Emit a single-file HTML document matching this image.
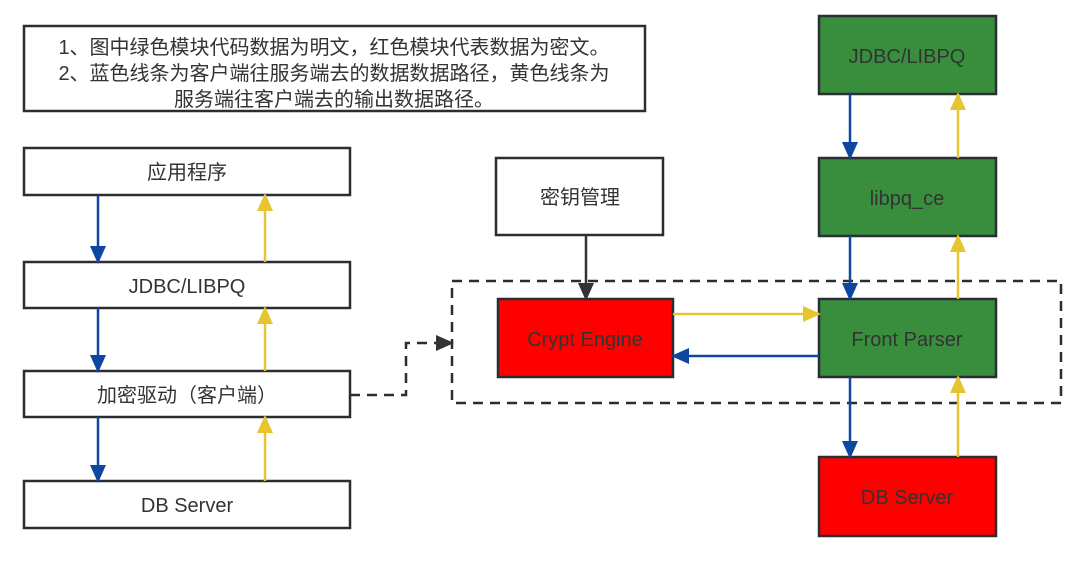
<!DOCTYPE html>
<html><head><meta charset="utf-8"><style>
html,body{margin:0;padding:0;background:#fff;}
svg{display:block;}
text{font-family:"Liberation Sans","Noto Sans CJK SC",sans-serif;fill:#333;}
</style></head><body>
<svg width="1080" height="568" viewBox="0 0 1080 568" xmlns="http://www.w3.org/2000/svg">
<defs>
<marker id="ab" markerWidth="18" markerHeight="16" refX="16" refY="8" orient="auto" markerUnits="userSpaceOnUse" viewBox="0 0 18 16"><path d="M0,0 L18,8 L0,16 Z" fill="#0d47a1"/></marker>
<marker id="ay" markerWidth="18" markerHeight="16" refX="16" refY="8" orient="auto" markerUnits="userSpaceOnUse" viewBox="0 0 18 16"><path d="M0,0 L18,8 L0,16 Z" fill="#e6c531"/></marker>
<marker id="ak" markerWidth="18" markerHeight="16" refX="16" refY="8" orient="auto" markerUnits="userSpaceOnUse" viewBox="0 0 18 16"><path d="M0,0 L18,8 L0,16 Z" fill="#333"/></marker>
</defs>
<g stroke="#2a2e33" stroke-width="2.5">
<rect x="24" y="26" width="621" height="85" fill="#fff"/>
<rect x="24" y="148" width="326" height="47" fill="#fff"/>
<rect x="24" y="262" width="326" height="46" fill="#fff"/>
<rect x="24" y="371" width="326" height="46" fill="#fff"/>
<rect x="24" y="481" width="326" height="47" fill="#fff"/>
<rect x="496" y="158" width="167" height="77" fill="#fff"/>
<rect x="498" y="299" width="175" height="78" fill="#ff0000"/>
<rect x="819" y="299" width="177" height="78" fill="#388e3c"/>
<rect x="819" y="457" width="177" height="79" fill="#ff0000"/>
<rect x="819" y="16" width="177" height="78" fill="#388e3c"/>
<rect x="819" y="158" width="177" height="78" fill="#388e3c"/>
</g>
<rect x="452" y="281" width="609" height="122" fill="none" stroke="#2a2e33" stroke-width="2.5" stroke-dasharray="10,7"/>
<path d="M350,395 H406 V343 H452" fill="none" stroke="#2a2e33" stroke-width="2.5" stroke-dasharray="10,7" marker-end="url(#ak)"/>
<g stroke-width="2.5" fill="none">
<line x1="98" y1="195" x2="98" y2="262" stroke="#0d47a1" marker-end="url(#ab)"/>
<line x1="98" y1="308" x2="98" y2="371" stroke="#0d47a1" marker-end="url(#ab)"/>
<line x1="98" y1="417" x2="98" y2="481" stroke="#0d47a1" marker-end="url(#ab)"/>
<line x1="265" y1="262" x2="265" y2="195" stroke="#e6c531" marker-end="url(#ay)"/>
<line x1="265" y1="371" x2="265" y2="308" stroke="#e6c531" marker-end="url(#ay)"/>
<line x1="265" y1="481" x2="265" y2="417" stroke="#e6c531" marker-end="url(#ay)"/>
<line x1="586" y1="235" x2="586" y2="299" stroke="#333" marker-end="url(#ak)"/>
<line x1="673" y1="314" x2="819" y2="314" stroke="#e6c531" marker-end="url(#ay)"/>
<line x1="819" y1="356" x2="673" y2="356" stroke="#0d47a1" marker-end="url(#ab)"/>
<line x1="850" y1="94" x2="850" y2="158" stroke="#0d47a1" marker-end="url(#ab)"/>
<line x1="850" y1="236" x2="850" y2="299" stroke="#0d47a1" marker-end="url(#ab)"/>
<line x1="850" y1="377" x2="850" y2="457" stroke="#0d47a1" marker-end="url(#ab)"/>
<line x1="958" y1="158" x2="958" y2="94" stroke="#e6c531" marker-end="url(#ay)"/>
<line x1="958" y1="299" x2="958" y2="236" stroke="#e6c531" marker-end="url(#ay)"/>
<line x1="958" y1="457" x2="958" y2="377" stroke="#e6c531" marker-end="url(#ay)"/>
</g>
<g font-size="20" text-anchor="middle">
<text x="334" y="54">1、图中绿色模块代码数据为明文，红色模块代表数据为密文。</text>
<text x="334" y="80">2、蓝色线条为客户端往服务端去的数据数据路径，黄色线条为</text>
<text x="334" y="106">服务端往客户端去的输出数据路径。</text>
<text x="187" y="179">应用程序</text>
<text x="187" y="293">JDBC/LIBPQ</text>
<text x="187" y="402">加密驱动（客户端）</text>
<text x="187" y="512">DB Server</text>
<text x="580" y="204">密钥管理</text>
<text x="585" y="346">Crypt Engine</text>
<text x="907" y="346">Front Parser</text>
<text x="907" y="504">DB Server</text>
<text x="907" y="63">JDBC/LIBPQ</text>
<text x="907" y="205">libpq_ce</text>
</g>
</svg>
</body></html>
